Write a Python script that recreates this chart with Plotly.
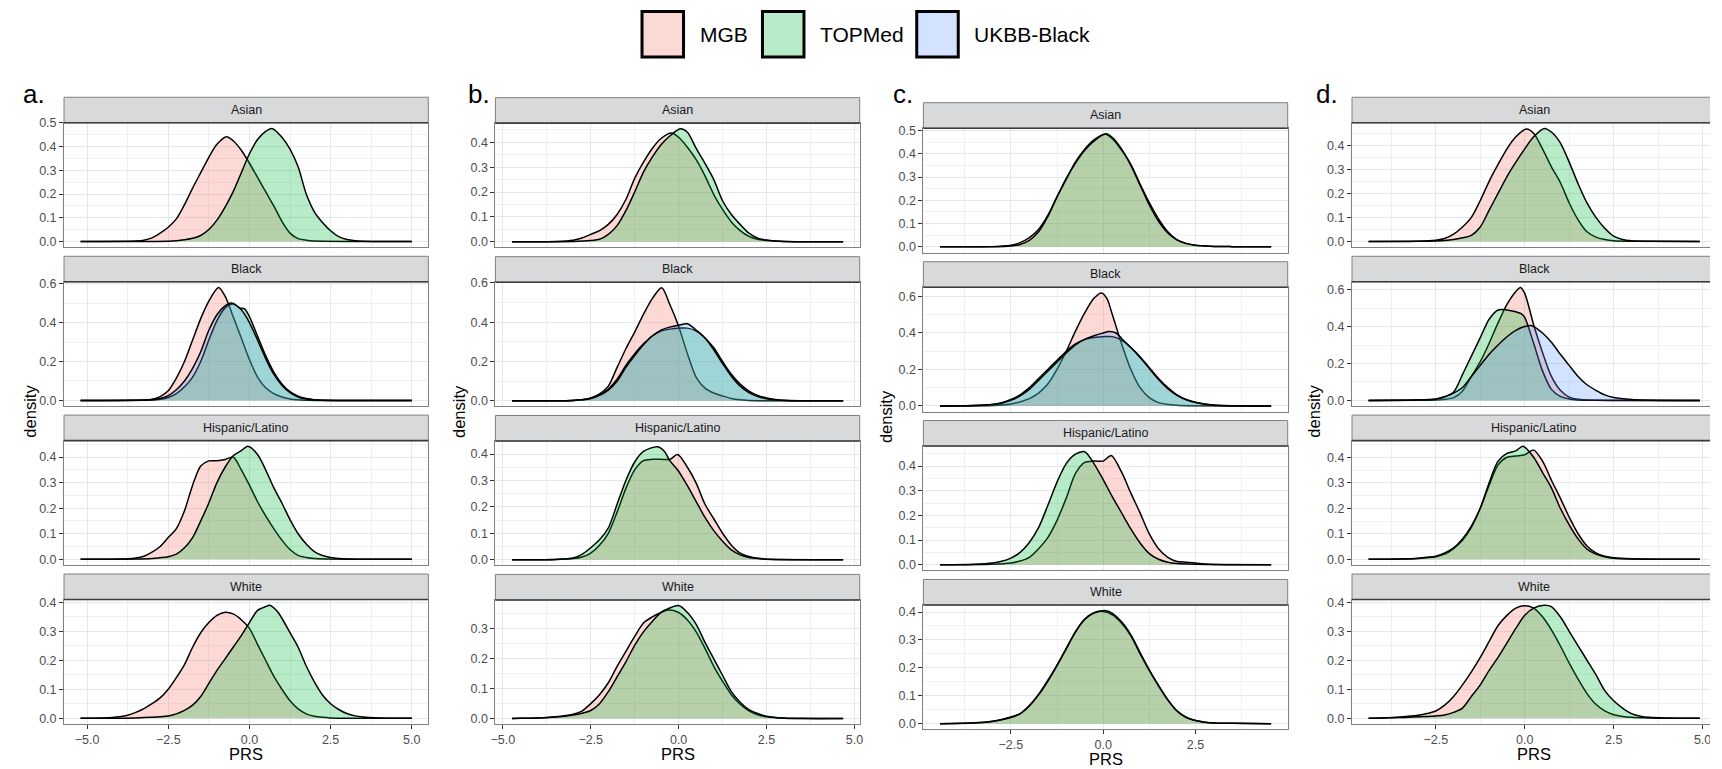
import plotly.graph_objects as go

W, H = 1722, 769

GROUPS = ["Asian", "Black", "Hispanic/Latino", "White"]
COHORTS = ["MGB", "TOPMed", "UKBB-Black"]
PANEL_TAGS = ["a.", "b.", "c.", "d."]
Y_STEP = {"Asian": 0.1, "Black": 0.2, "Hispanic/Latino": 0.1, "White": 0.1}
X_STEP = 2.5

# PRS span over which each panel's densities were evaluated
PRS_RANGE = {"a.": (-5.2, 5.0), "b.": (-4.74, 4.68), "c.": (-4.42, 4.55), "d.": (-4.39, 4.92)}

# ---- density curves, (PRS, density) ----
A_ASIAN_MGB = [(-3.5, 0.002), (-3.25, 0.005), (-3.0, 0.015), (-2.75, 0.035), (-2.5, 0.06), (-2.25, 0.095),
               (-2.0, 0.155), (-1.75, 0.225), (-1.5, 0.29), (-1.25, 0.355), (-1.0, 0.41), (-0.7, 0.442),
               (-0.5, 0.425), (-0.25, 0.385), (0.0, 0.33), (0.25, 0.27), (0.5, 0.21), (0.75, 0.15),
               (1.0, 0.085), (1.25, 0.035), (1.5, 0.012), (1.75, 0.005), (2.0, 0.002)]
A_ASIAN_TOPMED = [(-2.5, 0.001), (-2.25, 0.003), (-2.0, 0.007), (-1.75, 0.013), (-1.5, 0.025), (-1.25, 0.05),
                  (-1.0, 0.09), (-0.75, 0.145), (-0.5, 0.21), (-0.25, 0.29), (0.0, 0.37), (0.25, 0.43),
                  (0.5, 0.465), (0.7, 0.477), (1.0, 0.44), (1.25, 0.39), (1.5, 0.315), (1.75, 0.2),
                  (2.0, 0.125), (2.25, 0.08), (2.5, 0.045), (2.75, 0.02), (3.0, 0.008), (3.25, 0.003), (3.5, 0.001)]
A_BLACK_MGB = [(-3.25, 0.002), (-3.0, 0.006), (-2.75, 0.02), (-2.5, 0.05), (-2.25, 0.115), (-2.0, 0.2),
               (-1.75, 0.31), (-1.5, 0.42), (-1.25, 0.51), (-0.95, 0.58), (-0.75, 0.535), (-0.5, 0.43),
               (-0.25, 0.32), (0.0, 0.21), (0.25, 0.12), (0.5, 0.065), (0.75, 0.035), (1.0, 0.018),
               (1.25, 0.008), (1.5, 0.003), (1.75, 0.001)]
A_BLACK_TOPMED = [(-3.0, 0.002), (-2.75, 0.006), (-2.5, 0.015), (-2.25, 0.035), (-2.0, 0.07), (-1.75, 0.12),
                  (-1.5, 0.2), (-1.25, 0.31), (-1.0, 0.41), (-0.75, 0.475), (-0.5, 0.495), (-0.3, 0.475),
                  (-0.15, 0.47), (0.0, 0.43), (0.25, 0.33), (0.5, 0.23), (0.75, 0.145), (1.0, 0.085),
                  (1.25, 0.045), (1.5, 0.022), (1.75, 0.01), (2.0, 0.004), (2.25, 0.001)]
A_BLACK_UKBB = [(-3.0, 0.003), (-2.75, 0.01), (-2.5, 0.025), (-2.25, 0.055), (-2.0, 0.1), (-1.75, 0.165),
                (-1.5, 0.25), (-1.25, 0.36), (-1.0, 0.44), (-0.75, 0.485), (-0.55, 0.5), (-0.25, 0.465),
                (0.0, 0.4), (0.25, 0.31), (0.5, 0.215), (0.75, 0.135), (1.0, 0.078), (1.25, 0.04),
                (1.5, 0.018), (1.75, 0.007), (2.0, 0.002)]
A_HISP_MGB = [(-4.0, 0.001), (-3.75, 0.002), (-3.5, 0.005), (-3.25, 0.012), (-3.0, 0.028), (-2.75, 0.05),
              (-2.5, 0.085), (-2.25, 0.12), (-2.0, 0.19), (-1.75, 0.29), (-1.5, 0.365), (-1.25, 0.385),
              (-1.0, 0.385), (-0.75, 0.39), (-0.5, 0.40), (-0.25, 0.35), (0.0, 0.29), (0.25, 0.225),
              (0.5, 0.17), (0.75, 0.12), (1.0, 0.075), (1.25, 0.038), (1.5, 0.015), (1.75, 0.007), (2.0, 0.003)]
A_HISP_TOPMED = [(-3.5, 0.001), (-3.0, 0.003), (-2.75, 0.006), (-2.5, 0.01), (-2.25, 0.02), (-2.0, 0.045),
                 (-1.75, 0.085), (-1.5, 0.15), (-1.25, 0.22), (-1.0, 0.3), (-0.75, 0.36), (-0.5, 0.405),
                 (-0.25, 0.425), (-0.05, 0.442), (0.25, 0.41), (0.5, 0.35), (0.75, 0.28), (1.0, 0.22),
                 (1.25, 0.155), (1.5, 0.1), (1.75, 0.06), (2.0, 0.03), (2.25, 0.015), (2.5, 0.007),
                 (2.75, 0.003), (3.0, 0.001)]
A_WHITE_MGB = [(-4.5, 0.001), (-4.0, 0.005), (-3.75, 0.01), (-3.5, 0.02), (-3.25, 0.033), (-3.0, 0.05),
               (-2.75, 0.07), (-2.5, 0.1), (-2.25, 0.14), (-2.0, 0.185), (-1.75, 0.245), (-1.5, 0.295),
               (-1.25, 0.33), (-1.0, 0.355), (-0.75, 0.366), (-0.5, 0.36), (-0.25, 0.34), (0.0, 0.31),
               (0.25, 0.255), (0.5, 0.2), (0.75, 0.145), (1.0, 0.1), (1.25, 0.06), (1.5, 0.032),
               (1.75, 0.015), (2.0, 0.007), (2.25, 0.003), (2.5, 0.001)]
A_WHITE_TOPMED = [(-3.5, 0.001), (-3.0, 0.003), (-2.75, 0.005), (-2.5, 0.008), (-2.25, 0.015), (-2.0, 0.027),
                  (-1.75, 0.045), (-1.5, 0.075), (-1.25, 0.12), (-1.0, 0.165), (-0.75, 0.205), (-0.5, 0.245),
                  (-0.25, 0.285), (0.0, 0.33), (0.25, 0.372), (0.5, 0.385), (0.62, 0.39), (0.85, 0.37),
                  (1.0, 0.345), (1.25, 0.295), (1.5, 0.245), (1.75, 0.18), (2.0, 0.125), (2.25, 0.08),
                  (2.5, 0.05), (2.75, 0.03), (3.0, 0.016), (3.25, 0.008), (3.5, 0.004), (4.0, 0.001)]

B_ASIAN_MGB = [(-3.5, 0.001), (-3.0, 0.006), (-2.75, 0.015), (-2.5, 0.03), (-2.25, 0.045), (-2.0, 0.07),
               (-1.75, 0.11), (-1.5, 0.17), (-1.25, 0.255), (-1.0, 0.32), (-0.75, 0.375), (-0.5, 0.415),
               (-0.2, 0.437), (0.0, 0.42), (0.25, 0.38), (0.5, 0.33), (0.75, 0.265), (1.0, 0.19),
               (1.25, 0.13), (1.5, 0.08), (1.75, 0.045), (2.0, 0.022), (2.25, 0.01), (2.5, 0.005), (3.0, 0.001)]
B_ASIAN_TOPMED = [(-3.0, 0.001), (-2.5, 0.005), (-2.25, 0.01), (-2.0, 0.03), (-1.75, 0.065), (-1.5, 0.125),
                  (-1.25, 0.2), (-1.0, 0.28), (-0.75, 0.34), (-0.5, 0.39), (-0.25, 0.425), (0.05, 0.454),
                  (0.25, 0.44), (0.5, 0.375), (0.75, 0.315), (1.0, 0.25), (1.25, 0.165), (1.5, 0.11),
                  (1.75, 0.07), (2.0, 0.035), (2.25, 0.015), (2.5, 0.007), (2.75, 0.003), (3.0, 0.001)]
B_BLACK_MGB = [(-3.0, 0.002), (-2.75, 0.005), (-2.5, 0.015), (-2.25, 0.035), (-2.0, 0.075), (-1.75, 0.17),
               (-1.5, 0.265), (-1.25, 0.35), (-1.0, 0.44), (-0.75, 0.52), (-0.48, 0.575), (-0.25, 0.49),
               (0.0, 0.38), (0.25, 0.24), (0.5, 0.12), (0.75, 0.065), (1.0, 0.04), (1.25, 0.025),
               (1.5, 0.012), (1.75, 0.005), (2.0, 0.002)]
B_BLACK_TOPMED = [(-3.0, 0.002), (-2.75, 0.005), (-2.5, 0.012), (-2.25, 0.03), (-2.0, 0.06), (-1.75, 0.11),
                  (-1.5, 0.18), (-1.25, 0.24), (-1.0, 0.29), (-0.75, 0.33), (-0.5, 0.355), (-0.25, 0.365),
                  (0.0, 0.37), (0.25, 0.37), (0.5, 0.355), (0.75, 0.32), (1.0, 0.27), (1.25, 0.2),
                  (1.5, 0.135), (1.75, 0.085), (2.0, 0.05), (2.25, 0.028), (2.5, 0.015), (2.75, 0.007),
                  (3.0, 0.003), (3.5, 0.001)]
B_BLACK_UKBB = [(-3.0, 0.002), (-2.75, 0.005), (-2.5, 0.012), (-2.25, 0.028), (-2.0, 0.055), (-1.75, 0.1),
                (-1.5, 0.17), (-1.25, 0.23), (-1.0, 0.285), (-0.75, 0.33), (-0.5, 0.36), (-0.25, 0.375),
                (0.0, 0.385), (0.25, 0.392), (0.5, 0.36), (0.75, 0.32), (1.0, 0.26), (1.25, 0.19),
                (1.5, 0.125), (1.75, 0.075), (2.0, 0.042), (2.25, 0.022), (2.5, 0.01), (2.75, 0.005), (3.0, 0.002)]
B_HISP_MGB = [(-3.5, 0.001), (-3.0, 0.004), (-2.75, 0.01), (-2.5, 0.025), (-2.25, 0.055), (-2.0, 0.1),
              (-1.75, 0.18), (-1.5, 0.27), (-1.25, 0.34), (-1.0, 0.375), (-0.75, 0.38), (-0.5, 0.38),
              (-0.25, 0.38), (-0.03, 0.398), (0.25, 0.35), (0.5, 0.29), (0.75, 0.21), (1.0, 0.155),
              (1.25, 0.1), (1.5, 0.055), (1.75, 0.025), (2.0, 0.012), (2.25, 0.005), (2.5, 0.002)]
B_HISP_TOPMED = [(-3.5, 0.001), (-3.0, 0.006), (-2.75, 0.02), (-2.5, 0.045), (-2.25, 0.075), (-2.0, 0.12),
                 (-1.75, 0.21), (-1.5, 0.3), (-1.25, 0.37), (-1.0, 0.41), (-0.6, 0.428), (-0.4, 0.41),
                 (-0.25, 0.375), (0.0, 0.335), (0.25, 0.28), (0.5, 0.22), (0.75, 0.16), (1.0, 0.11),
                 (1.25, 0.07), (1.5, 0.037), (1.75, 0.018), (2.0, 0.008), (2.25, 0.004), (2.5, 0.002)]
B_WHITE_MGB = [(-4.5, 0.001), (-4.0, 0.002), (-3.5, 0.006), (-3.0, 0.015), (-2.75, 0.025), (-2.5, 0.05),
               (-2.25, 0.08), (-2.0, 0.12), (-1.75, 0.175), (-1.5, 0.225), (-1.25, 0.275), (-1.0, 0.32),
               (-0.75, 0.34), (-0.5, 0.355), (-0.3, 0.363), (0.0, 0.355), (0.25, 0.33), (0.5, 0.29),
               (0.75, 0.235), (1.0, 0.175), (1.25, 0.125), (1.5, 0.08), (1.75, 0.048), (2.0, 0.026),
               (2.25, 0.013), (2.5, 0.006), (3.0, 0.001)]
B_WHITE_TOPMED = [(-4.5, 0.001), (-4.0, 0.002), (-3.5, 0.005), (-3.0, 0.012), (-2.75, 0.018), (-2.5, 0.027),
                  (-2.25, 0.05), (-2.0, 0.09), (-1.75, 0.14), (-1.5, 0.19), (-1.25, 0.245), (-1.0, 0.29),
                  (-0.75, 0.325), (-0.5, 0.355), (-0.25, 0.37), (0.0, 0.378), (0.25, 0.355), (0.5, 0.315),
                  (0.75, 0.255), (1.0, 0.2), (1.25, 0.145), (1.5, 0.09), (1.75, 0.055), (2.0, 0.03),
                  (2.25, 0.017), (2.5, 0.008), (3.0, 0.002), (3.5, 0.001)]

C_ASIAN_MGB = [(-3.0, 0.001), (-2.75, 0.003), (-2.5, 0.007), (-2.25, 0.018), (-2.0, 0.04), (-1.75, 0.075),
               (-1.5, 0.135), (-1.25, 0.215), (-1.0, 0.29), (-0.75, 0.365), (-0.5, 0.42), (-0.25, 0.46),
               (0.05, 0.484), (0.25, 0.465), (0.5, 0.415), (0.75, 0.355), (1.0, 0.27), (1.25, 0.19),
               (1.5, 0.12), (1.75, 0.065), (2.0, 0.03), (2.25, 0.014), (2.5, 0.007), (2.75, 0.004),
               (3.0, 0.002), (3.5, 0.001)]
C_ASIAN_TOPMED = [(-3.0, 0.001), (-2.5, 0.004), (-2.25, 0.01), (-2.0, 0.028), (-1.75, 0.065), (-1.5, 0.13),
                  (-1.25, 0.215), (-1.0, 0.295), (-0.75, 0.36), (-0.5, 0.415), (-0.25, 0.455), (0.08, 0.486),
                  (0.25, 0.47), (0.5, 0.42), (0.75, 0.35), (1.0, 0.265), (1.25, 0.18), (1.5, 0.11),
                  (1.75, 0.06), (2.0, 0.03), (2.25, 0.015), (2.5, 0.007), (2.75, 0.004), (3.0, 0.002), (3.5, 0.001)]
C_BLACK_MGB = [(-3.0, 0.002), (-2.5, 0.01), (-2.0, 0.04), (-1.75, 0.07), (-1.5, 0.12), (-1.25, 0.2),
               (-1.0, 0.3), (-0.75, 0.41), (-0.5, 0.51), (-0.25, 0.59), (-0.05, 0.62), (0.1, 0.59),
               (0.25, 0.5), (0.5, 0.34), (0.75, 0.2), (1.0, 0.1), (1.25, 0.045), (1.5, 0.018),
               (2.0, 0.003), (2.5, 0.001)]
C_BLACK_TOPMED = [(-3.5, 0.002), (-3.0, 0.008), (-2.75, 0.018), (-2.5, 0.035), (-2.25, 0.06), (-2.0, 0.1),
                  (-1.75, 0.15), (-1.5, 0.2), (-1.25, 0.25), (-1.0, 0.3), (-0.75, 0.34), (-0.5, 0.365),
                  (-0.25, 0.375), (0.0, 0.38), (0.25, 0.38), (0.5, 0.36), (0.75, 0.32), (1.0, 0.27),
                  (1.25, 0.21), (1.5, 0.15), (1.75, 0.1), (2.0, 0.06), (2.25, 0.035), (2.5, 0.02),
                  (2.75, 0.01), (3.0, 0.005), (3.5, 0.001)]
C_BLACK_UKBB = [(-3.5, 0.002), (-3.0, 0.007), (-2.75, 0.015), (-2.5, 0.03), (-2.25, 0.055), (-2.0, 0.09),
                (-1.75, 0.14), (-1.5, 0.19), (-1.25, 0.24), (-1.0, 0.29), (-0.75, 0.335), (-0.5, 0.365),
                (-0.25, 0.385), (0.0, 0.4), (0.15, 0.408), (0.35, 0.4), (0.5, 0.37), (0.75, 0.32),
                (1.0, 0.265), (1.25, 0.205), (1.5, 0.145), (1.75, 0.095), (2.0, 0.058), (2.25, 0.033),
                (2.5, 0.018), (2.75, 0.009), (3.0, 0.004), (3.5, 0.001)]
C_HISP_MGB = [(-3.0, 0.002), (-2.5, 0.007), (-2.25, 0.015), (-2.0, 0.03), (-1.75, 0.065), (-1.5, 0.11),
              (-1.25, 0.18), (-1.0, 0.27), (-0.75, 0.37), (-0.5, 0.415), (-0.25, 0.42), (0.0, 0.42),
              (0.22, 0.443), (0.5, 0.375), (0.75, 0.29), (1.0, 0.21), (1.25, 0.125), (1.5, 0.065),
              (1.75, 0.03), (2.0, 0.013), (2.25, 0.01), (2.5, 0.007), (2.75, 0.003), (3.0, 0.001)]
C_HISP_TOPMED = [(-3.5, 0.002), (-3.0, 0.007), (-2.75, 0.014), (-2.5, 0.027), (-2.25, 0.05), (-2.0, 0.09),
                 (-1.75, 0.15), (-1.5, 0.24), (-1.25, 0.335), (-1.0, 0.41), (-0.75, 0.448), (-0.5, 0.458),
                 (-0.25, 0.41), (0.0, 0.345), (0.25, 0.275), (0.5, 0.21), (0.75, 0.145), (1.0, 0.088),
                 (1.25, 0.045), (1.5, 0.022), (1.75, 0.01), (2.0, 0.005), (2.5, 0.002), (3.0, 0.001)]
C_WHITE_MGB = [(-3.5, 0.003), (-3.0, 0.009), (-2.75, 0.015), (-2.5, 0.024), (-2.25, 0.036), (-2.0, 0.065),
               (-1.75, 0.105), (-1.5, 0.155), (-1.25, 0.21), (-1.0, 0.27), (-0.75, 0.33), (-0.5, 0.375),
               (-0.25, 0.398), (0.0, 0.402), (0.25, 0.39), (0.5, 0.36), (0.75, 0.315), (1.0, 0.25),
               (1.25, 0.19), (1.5, 0.135), (1.75, 0.085), (2.0, 0.045), (2.25, 0.022), (2.5, 0.011),
               (2.75, 0.005), (3.0, 0.002), (3.5, 0.001)]
C_WHITE_TOPMED = [(-3.5, 0.002), (-3.0, 0.008), (-2.75, 0.014), (-2.5, 0.022), (-2.25, 0.035), (-2.0, 0.063),
                  (-1.75, 0.103), (-1.5, 0.152), (-1.25, 0.208), (-1.0, 0.268), (-0.75, 0.328), (-0.5, 0.373),
                  (-0.25, 0.396), (0.08, 0.405), (0.25, 0.395), (0.5, 0.365), (0.75, 0.318), (1.0, 0.255),
                  (1.25, 0.193), (1.5, 0.137), (1.75, 0.086), (2.0, 0.046), (2.25, 0.023), (2.5, 0.011),
                  (2.75, 0.005), (3.0, 0.002), (3.5, 0.001)]

D_ASIAN_MGB = [(-3.0, 0.001), (-2.5, 0.005), (-2.25, 0.012), (-2.0, 0.03), (-1.75, 0.06), (-1.5, 0.1),
               (-1.25, 0.17), (-1.0, 0.25), (-0.75, 0.32), (-0.5, 0.385), (-0.25, 0.435), (0.05, 0.468),
               (0.25, 0.45), (0.5, 0.385), (0.75, 0.31), (1.0, 0.245), (1.25, 0.16), (1.5, 0.09),
               (1.75, 0.04), (2.0, 0.018), (2.25, 0.008), (2.5, 0.003), (3.0, 0.001)]
D_ASIAN_TOPMED = [(-3.0, 0.001), (-2.5, 0.002), (-2.25, 0.004), (-2.0, 0.008), (-1.75, 0.015), (-1.5, 0.025),
                  (-1.25, 0.06), (-1.0, 0.13), (-0.75, 0.2), (-0.5, 0.27), (-0.25, 0.33), (0.0, 0.385),
                  (0.25, 0.435), (0.55, 0.47), (0.75, 0.455), (1.0, 0.41), (1.25, 0.33), (1.5, 0.24),
                  (1.75, 0.16), (2.0, 0.1), (2.25, 0.055), (2.5, 0.022), (2.75, 0.008), (3.0, 0.003), (3.5, 0.001)]
D_BLACK_MGB = [(-3.0, 0.001), (-2.5, 0.003), (-2.25, 0.006), (-2.0, 0.015), (-1.75, 0.05), (-1.5, 0.13),
               (-1.25, 0.21), (-1.0, 0.31), (-0.75, 0.42), (-0.5, 0.52), (-0.25, 0.59), (-0.12, 0.612),
               (0.0, 0.58), (0.25, 0.41), (0.5, 0.26), (0.75, 0.13), (1.0, 0.055), (1.25, 0.018),
               (1.5, 0.006), (2.0, 0.001)]
D_BLACK_TOPMED = [(-3.0, 0.002), (-2.5, 0.006), (-2.25, 0.02), (-2.0, 0.045), (-1.75, 0.14), (-1.5, 0.24),
                  (-1.25, 0.34), (-1.0, 0.44), (-0.75, 0.49), (-0.5, 0.49), (-0.25, 0.48), (-0.1, 0.47),
                  (0.0, 0.45), (0.25, 0.31), (0.5, 0.16), (0.75, 0.06), (1.0, 0.022), (1.25, 0.008),
                  (1.5, 0.003), (2.0, 0.001)]
D_BLACK_UKBB = [(-3.0, 0.002), (-2.5, 0.008), (-2.25, 0.02), (-2.0, 0.04), (-1.75, 0.07), (-1.5, 0.13),
                (-1.25, 0.19), (-1.0, 0.25), (-0.75, 0.3), (-0.5, 0.345), (-0.25, 0.38), (0.0, 0.4),
                (0.2, 0.405), (0.5, 0.365), (0.75, 0.315), (1.0, 0.25), (1.25, 0.19), (1.5, 0.13),
                (1.75, 0.085), (2.0, 0.055), (2.25, 0.03), (2.5, 0.016), (3.0, 0.005), (3.5, 0.001)]
D_HISP_MGB = [(-3.5, 0.001), (-3.0, 0.003), (-2.75, 0.006), (-2.5, 0.01), (-2.25, 0.02), (-2.0, 0.042),
              (-1.75, 0.075), (-1.5, 0.125), (-1.25, 0.2), (-1.0, 0.29), (-0.75, 0.37), (-0.5, 0.4),
              (-0.25, 0.405), (0.0, 0.41), (0.25, 0.428), (0.5, 0.385), (0.75, 0.31), (1.0, 0.24),
              (1.25, 0.165), (1.5, 0.1), (1.75, 0.052), (2.0, 0.025), (2.25, 0.012), (2.5, 0.006), (3.0, 0.002)]
D_HISP_TOPMED = [(-3.5, 0.001), (-3.0, 0.004), (-2.75, 0.008), (-2.5, 0.012), (-2.25, 0.025), (-2.0, 0.045),
                 (-1.75, 0.08), (-1.5, 0.13), (-1.25, 0.2), (-1.0, 0.3), (-0.75, 0.385), (-0.5, 0.415),
                 (-0.25, 0.425), (-0.05, 0.443), (0.25, 0.4), (0.5, 0.34), (0.75, 0.28), (1.0, 0.2),
                 (1.25, 0.135), (1.5, 0.08), (1.75, 0.04), (2.0, 0.02), (2.25, 0.01), (2.5, 0.004), (3.0, 0.001)]
D_WHITE_MGB = [(-4.0, 0.001), (-3.5, 0.004), (-3.0, 0.01), (-2.75, 0.016), (-2.5, 0.025), (-2.25, 0.045),
               (-2.0, 0.075), (-1.75, 0.115), (-1.5, 0.16), (-1.25, 0.21), (-1.0, 0.265), (-0.75, 0.32),
               (-0.5, 0.355), (-0.25, 0.38), (0.0, 0.388), (0.25, 0.38), (0.5, 0.35), (0.75, 0.305),
               (1.0, 0.25), (1.25, 0.19), (1.5, 0.135), (1.75, 0.085), (2.0, 0.048), (2.25, 0.025),
               (2.5, 0.012), (2.75, 0.006), (3.0, 0.003), (3.5, 0.001)]
D_WHITE_TOPMED = [(-4.0, 0.001), (-3.5, 0.002), (-3.0, 0.005), (-2.5, 0.008), (-2.25, 0.011), (-2.0, 0.02),
                  (-1.75, 0.035), (-1.5, 0.075), (-1.25, 0.115), (-1.0, 0.165), (-0.75, 0.21), (-0.5, 0.26),
                  (-0.25, 0.31), (0.0, 0.355), (0.25, 0.38), (0.55, 0.39), (0.75, 0.385), (1.0, 0.35),
                  (1.25, 0.3), (1.5, 0.25), (1.75, 0.2), (2.0, 0.15), (2.25, 0.095), (2.5, 0.06),
                  (2.75, 0.035), (3.0, 0.016), (3.25, 0.007), (3.5, 0.003), (4.0, 0.001)]

CURVES = {
    "a.": {"Asian": {"MGB": A_ASIAN_MGB, "TOPMed": A_ASIAN_TOPMED},
           "Black": {"MGB": A_BLACK_MGB, "TOPMed": A_BLACK_TOPMED, "UKBB-Black": A_BLACK_UKBB},
           "Hispanic/Latino": {"MGB": A_HISP_MGB, "TOPMed": A_HISP_TOPMED},
           "White": {"MGB": A_WHITE_MGB, "TOPMed": A_WHITE_TOPMED}},
    "b.": {"Asian": {"MGB": B_ASIAN_MGB, "TOPMed": B_ASIAN_TOPMED},
           "Black": {"MGB": B_BLACK_MGB, "TOPMed": B_BLACK_TOPMED, "UKBB-Black": B_BLACK_UKBB},
           "Hispanic/Latino": {"MGB": B_HISP_MGB, "TOPMed": B_HISP_TOPMED},
           "White": {"MGB": B_WHITE_MGB, "TOPMed": B_WHITE_TOPMED}},
    "c.": {"Asian": {"MGB": C_ASIAN_MGB, "TOPMed": C_ASIAN_TOPMED},
           "Black": {"MGB": C_BLACK_MGB, "TOPMed": C_BLACK_TOPMED, "UKBB-Black": C_BLACK_UKBB},
           "Hispanic/Latino": {"MGB": C_HISP_MGB, "TOPMed": C_HISP_TOPMED},
           "White": {"MGB": C_WHITE_MGB, "TOPMed": C_WHITE_TOPMED}},
    "d.": {"Asian": {"MGB": D_ASIAN_MGB, "TOPMed": D_ASIAN_TOPMED},
           "Black": {"MGB": D_BLACK_MGB, "TOPMed": D_BLACK_TOPMED, "UKBB-Black": D_BLACK_UKBB},
           "Hispanic/Latino": {"MGB": D_HISP_MGB, "TOPMed": D_HISP_TOPMED},
           "White": {"MGB": D_WHITE_MGB, "TOPMed": D_WHITE_TOPMED}},
}

# ---- styling ----
FILLS = {"MGB": "rgba(248,118,109,0.28)", "TOPMed": "rgba(0,186,56,0.28)", "UKBB-Black": "rgba(97,156,255,0.28)"}
FONT = "Liberation Sans, Arial, Helvetica, sans-serif"
GRID = "#E4E7EB"
GRID_MINOR = "#EEF0F3"
FRAME = "#808080"
STRIP_FILL = "#D7D9DA"

# page geometry in pixels
PANEL_LEFT = [59.3, 492.7, 922.7, 1353.3]
PANEL_W = 366.0
PANEL_SHIFT = [0.0, 0.4, 5.5, 0.0]
FACET_TOP = [92.2, 252.9, 413.4, 574.0]
STRIP_H = 25.8
PLOT_H = 125.6
TAG_X = [16, 463, 890, 1315]
YTITLE_X = [25, 456, 885, 1315]


def fx(px):
    return px / W


def fy(py):
    return 1 - py / H


fig = go.Figure()
layout = {}
shapes = []
annotations = []

k = 0
for p, tag in enumerate(PANEL_TAGS):
    lo, hi = PRS_RANGE[tag]
    pad = 0.05 * (hi - lo)
    xr = [lo - pad, hi + pad]
    left = PANEL_LEFT[p]
    right = left + PANEL_W
    shift = PANEL_SHIFT[p]
    for g, group in enumerate(GROUPS):
        k += 1
        strip_top = FACET_TOP[g] + shift
        top = strip_top + STRIP_H
        bottom = top + PLOT_H
        series = CURVES[tag][group]
        peak = max(max(d for _, d in pts) for pts in series.values())
        yr = [-0.05 * peak, 1.05 * peak]
        xa = "x" if k == 1 else f"x{k}"
        ya = "y" if k == 1 else f"y{k}"
        for cohort in COHORTS:
            if cohort not in series:
                continue
            pts = [(lo, 0.0)] + series[cohort] + [(hi, 0.0)]
            fig.add_trace(go.Scatter(
                x=[a for a, _ in pts], y=[b for _, b in pts], xaxis=xa, yaxis=ya,
                mode="lines", line=dict(color="black", width=1.5, shape="spline", smoothing=0.8),
                fill="tozeroy", fillcolor=FILLS[cohort], name=cohort,
                showlegend=False, hoverinfo="skip"))
        bottom_row = group == GROUPS[-1]
        layout["xaxis" if k == 1 else f"xaxis{k}"] = dict(
            domain=[fx(left), fx(right)], range=xr, anchor=ya,
            tick0=0, dtick=X_STEP, tickformat=".1f",
            showticklabels=bottom_row, ticks="outside" if bottom_row else "",
            ticklen=4, tickwidth=1, tickcolor="#333333",
            tickfont=dict(family=FONT, size=12.5, color="#4D4D4D"),
            showgrid=True, gridcolor=GRID, gridwidth=1,
            minor=dict(dtick=X_STEP / 2, tick0=0, showgrid=True, gridcolor=GRID_MINOR, gridwidth=0.8),
            zeroline=False, showline=True, mirror=True, linecolor=FRAME, linewidth=1)
        layout["yaxis" if k == 1 else f"yaxis{k}"] = dict(
            domain=[fy(bottom), fy(top)], range=yr, anchor=xa,
            tick0=0, dtick=Y_STEP[group], tickformat=".1f",
            ticks="outside", ticklen=4, tickwidth=1, tickcolor="#333333",
            tickfont=dict(family=FONT, size=12.5, color="#4D4D4D"),
            showgrid=True, gridcolor=GRID, gridwidth=1,
            minor=dict(dtick=Y_STEP[group] / 2, tick0=0, showgrid=True, gridcolor=GRID_MINOR, gridwidth=0.8),
            zeroline=False, showline=True, mirror=True, linecolor=FRAME, linewidth=1)
        # facet strip
        shapes.append(dict(type="rect", xref="paper", yref="paper", x0=fx(left), x1=fx(right),
                           y0=fy(top), y1=fy(strip_top), fillcolor=STRIP_FILL,
                           line=dict(color=FRAME, width=1), layer="above"))
        shapes.append(dict(type="line", xref="paper", yref="paper", x0=fx(left), x1=fx(right),
                           y0=fy(top), y1=fy(top), line=dict(color="#3C3C3C", width=1.6), layer="above"))
        annotations.append(dict(text=group, xref="paper", yref="paper", x=fx((left + right) / 2),
                                y=fy(strip_top + STRIP_H / 2), showarrow=False, xanchor="center",
                                yanchor="middle", font=dict(family=FONT, size=12.5, color="#1A1A1A")))
    # panel tag, axis titles
    annotations.append(dict(text=tag, xref="paper", yref="paper", x=fx(TAG_X[p]), y=fy(89),
                            showarrow=False, xanchor="left", yanchor="middle",
                            font=dict(family=FONT, size=26, color="black")))
    annotations.append(dict(text="PRS", xref="paper", yref="paper", x=fx((left + right) / 2),
                            y=fy(755.5 + shift * 0.9), showarrow=False, xanchor="center", yanchor="middle",
                            font=dict(family=FONT, size=16.5, color="black")))
    annotations.append(dict(text="density", xref="paper", yref="paper", x=fx(YTITLE_X[p]),
                            y=fy(409 + shift), showarrow=False, xanchor="center", yanchor="middle",
                            textangle=-90, font=dict(family=FONT, size=16.5, color="black")))

# legend keys across the top
LEGEND_BOX_X = [640, 761, 916]
for cohort, bx in zip(COHORTS, LEGEND_BOX_X):
    shapes.append(dict(type="rect", xref="paper", yref="paper", x0=fx(bx), x1=fx(bx + 41.7),
                       y0=fy(51.5), y1=fy(5.5), fillcolor=FILLS[cohort],
                       line=dict(color="black", width=3), layer="above"))
    annotations.append(dict(text=cohort, xref="paper", yref="paper", x=fx(bx + 56), y=fy(28.5),
                            showarrow=False, xanchor="left", yanchor="middle",
                            font=dict(family=FONT, size=21, color="black")))

# right edge of the page is trimmed
shapes.append(dict(type="rect", xref="paper", yref="paper", x0=fx(1713), x1=1.0, y0=0, y1=1,
                   fillcolor="white", line=dict(width=0), layer="above"))

fig.update_layout(
    width=W, height=H, margin=dict(l=0, r=0, t=0, b=0),
    paper_bgcolor="white", plot_bgcolor="white", showlegend=False,
    shapes=shapes, annotations=annotations, **layout)

fig.write_html("out.html")
